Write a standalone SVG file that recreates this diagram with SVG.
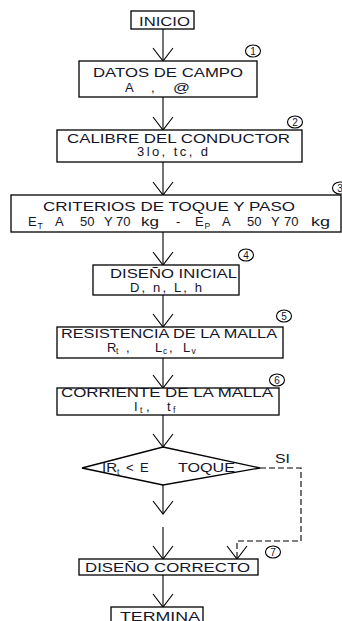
<svg xmlns="http://www.w3.org/2000/svg" width="342" height="621" viewBox="0 0 342 621">
<style>
.box{fill:#fff;stroke:#000;stroke-width:1.3}
.t{font-family:"Liberation Sans",Arial,sans-serif;font-size:13px;fill:#14142a}
.s{font-family:"Liberation Sans",Arial,sans-serif;font-size:8.5px;fill:#14142a}
.n{font-family:"Liberation Sans",Arial,sans-serif;font-size:10px;fill:#14142a;text-anchor:middle}
.c{fill:none;stroke:#000;stroke-width:1.1}
.ln{fill:none;stroke:#000;stroke-width:1.1}
.d{fill:none;stroke:#000;stroke-width:1.1;stroke-dasharray:6 3}
</style>
<defs>
<marker id="v" markerUnits="userSpaceOnUse" markerWidth="30" markerHeight="30" viewBox="-15 -15 30 30" refX="0" refY="0" orient="auto" overflow="visible">
<path d="M-13,-10 L0,0 L-13,10" fill="none" stroke="#000" stroke-width="1.1"/>
</marker>
</defs>
<g id="connectors">
<line class="ln" x1="163" y1="29" x2="163" y2="61" marker-end="url(#v)"/>
<line class="ln" x1="163" y1="97" x2="163" y2="130" marker-end="url(#v)"/>
<line class="ln" x1="163" y1="162" x2="163" y2="195" marker-end="url(#v)"/>
<line class="ln" x1="163" y1="232" x2="163" y2="265" marker-end="url(#v)"/>
<line class="ln" x1="163" y1="295" x2="163" y2="327" marker-end="url(#v)"/>
<line class="ln" x1="163" y1="358" x2="163" y2="388" marker-end="url(#v)"/>
<line class="ln" x1="163" y1="415" x2="163" y2="447" marker-end="url(#v)"/>
<line class="ln" x1="163" y1="484" x2="163" y2="514" marker-end="url(#v)"/>
<line class="ln" x1="163" y1="527" x2="163" y2="559" marker-end="url(#v)"/>
<polyline class="d" points="260,468 301,468 301,541 237,541 237,559" marker-end="url(#v)"/>
<line class="ln" x1="163" y1="575" x2="163" y2="607" marker-end="url(#v)"/>
<text class="t" x="275" y="463" font-size="12" textLength="15" lengthAdjust="spacingAndGlyphs">SI</text>
</g>
<g id="inicio">
<rect class="box" x="131" y="11" width="63" height="18"/>
<text class="t" x="139" y="25.5" font-size="12" textLength="51" lengthAdjust="spacingAndGlyphs">INICIO</text>
</g>
<g id="datos">
<rect class="box" x="79" y="61" width="178" height="36"/>
<text class="t" x="93" y="77" textLength="150" lengthAdjust="spacingAndGlyphs">DATOS DE CAMPO</text>
<text class="t" x="125" y="92">A</text>
<text class="t" x="151" y="92">,</text>
<text class="t" x="173" y="92" textLength="17" lengthAdjust="spacingAndGlyphs">@</text>
<ellipse class="c" cx="253" cy="51" rx="7.5" ry="6"/>
<text class="n" x="253" y="54.5">1</text>
</g>
<g id="calibre">
<rect class="box" x="57" y="130" width="245" height="32"/>
<text class="t" x="67" y="142.5" textLength="223" lengthAdjust="spacingAndGlyphs">CALIBRE DEL CONDUCTOR</text>
<text class="t" x="137" y="156" font-size="12" textLength="71">3lo,  tc,  d</text>
<ellipse class="c" cx="295" cy="122" rx="7.5" ry="6"/>
<text class="n" x="295" y="125.5">2</text>
</g>
<g id="criterios">
<rect class="box" x="11" y="195" width="330" height="37"/>
<text class="t" x="43" y="211" font-size="14" textLength="252" lengthAdjust="spacingAndGlyphs">CRITERIOS DE TOQUE Y PASO</text>
<text class="t" y="225.5"><tspan x="28">E</tspan><tspan class="s" x="37.5" y="228.5">T</tspan><tspan x="55" y="225.5">A</tspan><tspan x="80">50</tspan><tspan x="104">Y</tspan><tspan x="116">70</tspan><tspan x="141" textLength="18" lengthAdjust="spacingAndGlyphs">kg</tspan><tspan x="176">-</tspan><tspan x="195">E</tspan><tspan class="s" x="204.5" y="228.5">P</tspan><tspan x="222" y="225.5">A</tspan><tspan x="247">50</tspan><tspan x="271">Y</tspan><tspan x="284">70</tspan><tspan x="311" textLength="19" lengthAdjust="spacingAndGlyphs">kg</tspan></text>
<ellipse class="c" cx="340" cy="188" rx="7.5" ry="6"/>
<text class="n" x="340" y="191.5">3</text>
</g>
<g id="diseno-inicial">
<rect class="box" x="93" y="265" width="146" height="30"/>
<text class="t" x="110" y="278" textLength="127" lengthAdjust="spacingAndGlyphs">DISEÑO INICIAL</text>
<text class="t" x="130" y="291.5" textLength="72">D,  n, L, h</text>
<ellipse class="c" cx="246" cy="255" rx="7.5" ry="6"/>
<text class="n" x="246" y="258.5">4</text>
</g>
<g id="resistencia">
<rect class="box" x="57" y="327" width="226" height="31"/>
<text class="t" x="61" y="337.5" textLength="216" lengthAdjust="spacingAndGlyphs">RESISTENCIA DE LA MALLA</text>
<text class="t" y="351.5" font-size="12"><tspan x="107">R</tspan><tspan class="s" x="116" y="354">t</tspan><tspan x="126" y="351.5">,</tspan><tspan x="155">L</tspan><tspan class="s" x="163" y="354">c</tspan><tspan x="169" y="351.5">,</tspan><tspan x="183">L</tspan><tspan class="s" x="191.5" y="354">v</tspan></text>
<ellipse class="c" cx="284" cy="316" rx="7.5" ry="6"/>
<text class="n" x="284" y="319.5">5</text>
</g>
<g id="corriente">
<rect class="box" x="57" y="388" width="222" height="27"/>
<text class="t" x="61" y="397" font-size="12" textLength="212" lengthAdjust="spacingAndGlyphs">CORRIENTE DE LA MALLA</text>
<text class="t" y="410.5" font-size="11"><tspan x="134">I</tspan><tspan class="s" x="140" y="412.5" font-size="7.5">t</tspan><tspan x="146" y="410.5">,</tspan><tspan x="167">t</tspan><tspan class="s" x="173" y="412.5" font-size="7.5">f</tspan></text>
<ellipse class="c" cx="277" cy="380" rx="7.5" ry="6"/>
<text class="n" x="277" y="383.5">6</text>
</g>
<g id="decision">
<polygon class="box" points="163,447 260,468 163,485 82,468"/>
<text class="t" y="472" font-size="14"><tspan x="102" textLength="15" lengthAdjust="spacingAndGlyphs">IR</tspan><tspan class="s" x="117" y="475">t</tspan><tspan x="126" y="472">&lt;</tspan><tspan x="140">E</tspan><tspan x="178" textLength="57" lengthAdjust="spacingAndGlyphs">TOQUE</tspan></text>
</g>
<g id="diseno-correcto">
<rect class="box" x="79" y="559" width="179" height="16"/>
<text class="t" x="85" y="572" textLength="165" lengthAdjust="spacingAndGlyphs">DISEÑO CORRECTO</text>
<ellipse class="c" cx="273" cy="552" rx="7.5" ry="6"/>
<text class="n" x="273" y="555.5">7</text>
</g>
<g id="termina">
<rect class="box" x="111" y="607" width="92" height="24"/>
<text class="t" x="120" y="621" textLength="80" lengthAdjust="spacingAndGlyphs">TERMINA</text>
</g>
</svg>
